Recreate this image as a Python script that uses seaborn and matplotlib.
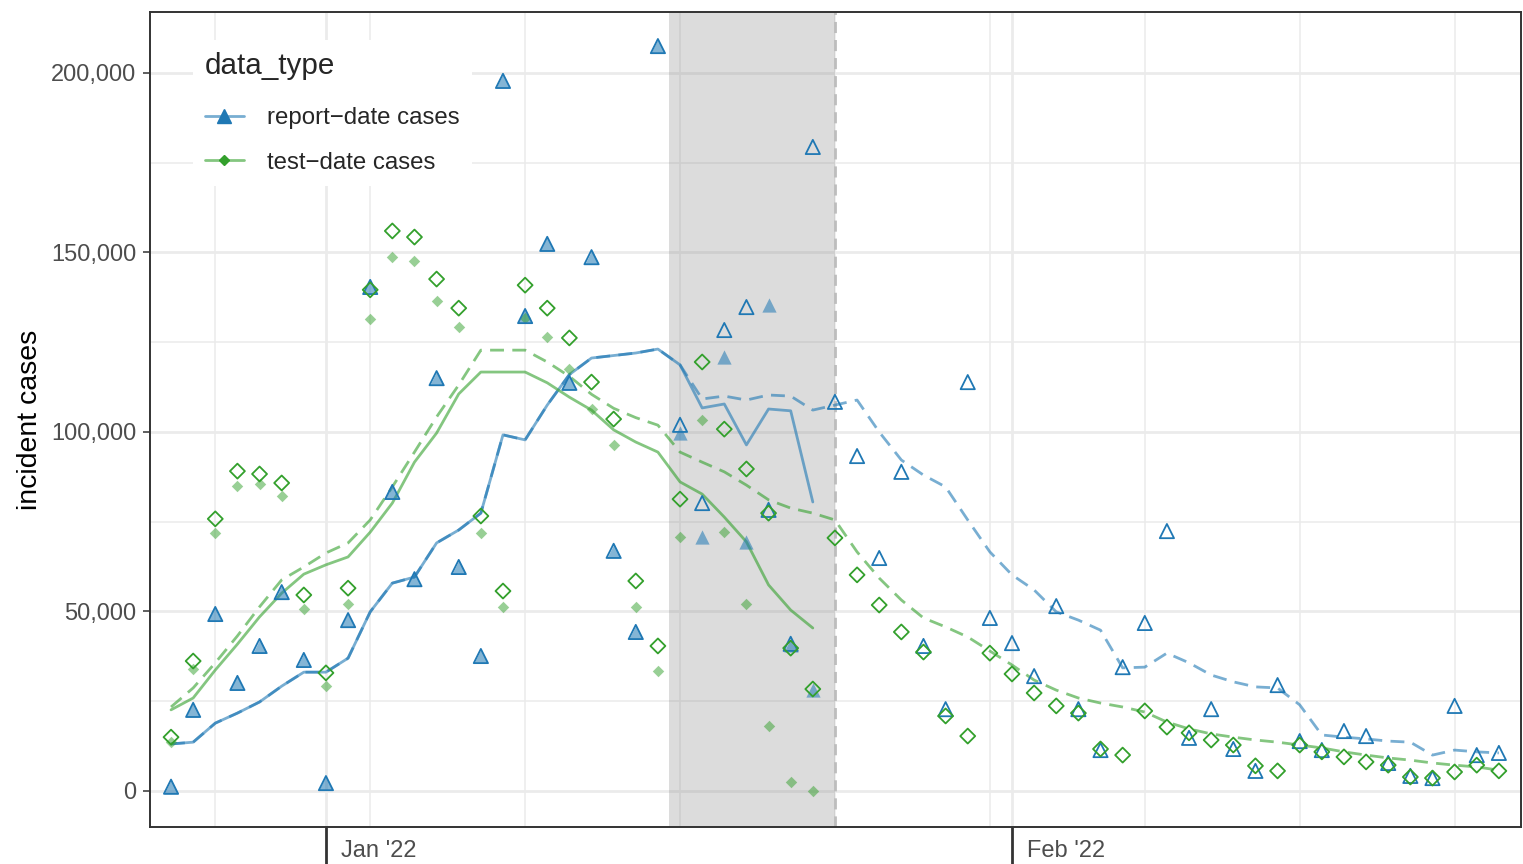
import numpy as np
import pandas as pd
import matplotlib
matplotlib.use("Agg")
import matplotlib.pyplot as plt
import matplotlib.dates as mdates
import matplotlib.ticker as mticker
import matplotlib.transforms as mtransforms
from matplotlib.lines import Line2D
import seaborn as sns

# --- data ---
dates = pd.date_range("2021-12-25", "2022-02-23", freq="D")
asof_dates = dates[:30]  # data as of Jan 24 '22

report_final = [1200, 22600, 49300, 30100, 40400, 55400, 36500, 2200, 47600, 140400,
                83300, 59000, 115000, 62400, 37600, 197800, 132300, 152400, 113700, 148700,
                66900, 44300, 207500, 102000, 80200, 128400, 134800, 78300, 41000, 179400,
                108400, 93300, 64900, 88900, 40400, 22800, 113900, 48200, 41200, 32000,
                51500, 22800, 11400, 34500, 46800, 72400, 14800, 22800, 11700, 5600,
                29500, 13900, 11400, 16700, 15300, 7800, 4200, 3600, 23700, 10000, 10600]
report_asof = [1200, 22600, 49300, 30100, 40400, 55400, 36500, 2200, 47600, 140400,
               83300, 59000, 115000, 62400, 37600, 197800, 132300, 152400, 113700, 148700,
               66900, 44300, 207500, 99700, 70700, 120900, 69400, 135400, 40700, 28100]

test_final = [15000, 36200, 75800, 89100, 88300, 85800, 54600, 32900, 56500, 139600,
              156000, 154300, 142600, 134500, 76600, 55700, 140900, 134500, 126200, 113900,
              103600, 58500, 40400, 81300, 119500, 100800, 89700, 77400, 39800, 28400,
              70500, 60200, 51800, 44300, 38700, 20900, 15300, 38400, 32600, 27300,
              23700, 21700, 11700, 10000, 22300, 17800, 16200, 14200, 12800, 7000,
              5600, 12800, 10900, 9500, 8100, 7200, 3900, 3600, 5300, 7200, 5600]
test_asof = [13600, 34000, 71900, 85000, 85500, 82200, 50700, 29200, 52100, 131500,
             148700, 147600, 136500, 129200, 71900, 51300, 131800, 126500, 117500, 106400,
             96400, 51300, 33400, 70800, 103300, 72100, 52100, 18100, 2500, 0]

# 7-day averages
report_avg_asof = [13100, 13600, 18900, 21700, 24800, 29200, 33100, 33100, 37000, 49900,
                   57900, 59600, 69100, 72700, 77400, 99200, 97800, 107500, 116000, 120600,
                   121300, 122000, 123100, 118700, 106700, 107800, 96400, 106400, 105900, 80500]
report_avg_final = [13100, 13600, 18900, 21700, 24800, 29200, 33100, 33100, 37000, 49900,
                    57900, 59600, 69100, 72700, 77400, 99200, 97800, 107500, 116000, 120600,
                    121300, 122000, 123100, 118700, 109200, 110000, 108900, 110300, 110000, 106100,
                    107500, 108900, 100000, 92200, 88000, 84700, 75500, 66600, 60200, 56000,
                    49900, 47600, 44800, 34300, 34500, 38400, 35700, 32300, 30400, 29000,
                    28700, 24000, 15600, 15000, 14500, 13900, 13600, 10000, 11400, 10900, 10600]
test_avg_asof = [22600, 25900, 33700, 40900, 48500, 55100, 60400, 63000, 65200, 72100,
                 80200, 91600, 99700, 110600, 116700, 116700, 116700, 113700, 109700, 106100,
                 100600, 97200, 94400, 86100, 82700, 76300, 69400, 57400, 50400, 45400]
test_avg_final = [23400, 28700, 35700, 43200, 51300, 58800, 62400, 66300, 69100, 75500,
                  84700, 94400, 104200, 113100, 122800, 122800, 122800, 119500, 115500, 110500,
                  106600, 104000, 101900, 94400, 91600, 88900, 85200, 81100, 78800, 77400,
                  75500, 66600, 59300, 53200, 48200, 45700, 42900, 39000, 35100, 30900,
                  28100, 25900, 24500, 23400, 22000, 19200, 17300, 15900, 15000, 14200,
                  13600, 12800, 12000, 10900, 10000, 9200, 8600, 7800, 7200, 6700, 5800]

legend_labels = ["report\u2212date cases", "test\u2212date cases"]

BLUE = "#1f78b4"
GREEN = "#33a02c"
TICK_GREY = "#4d4d4d"

# --- style ---
sns.set_style("white")
plt.rcParams["font.family"] = ["Liberation Sans", "DejaVu Sans"]

W, H = 1523, 864
fig = plt.figure(figsize=(W / 100, H / 100), dpi=100)
ax = fig.add_axes([150 / W, 1 - 827 / H, 1371 / W, 815 / H])
ax.set_axisbelow(True)

# shaded "backfill" window and forecast date
ax.axvspan(pd.Timestamp("2022-01-16 12:00"), pd.Timestamp("2022-01-24"),
           color="gray", alpha=0.27, lw=0, zorder=1)
ax.axvline(pd.Timestamp("2022-01-24"), color="#bdbdbd", lw=2,
           ls=(0, (4, 2.5)), zorder=1.5)

# rolling averages
dash = (0, (5, 3))
sns.lineplot(x=asof_dates, y=report_avg_asof, color=BLUE, alpha=0.6, lw=2, ax=ax, zorder=2)
sns.lineplot(x=dates, y=report_avg_final, color=BLUE, alpha=0.6, lw=2, linestyle=dash, ax=ax, zorder=2)
sns.lineplot(x=asof_dates, y=test_avg_asof, color=GREEN, alpha=0.6, lw=2, ax=ax, zorder=2)
sns.lineplot(x=dates, y=test_avg_final, color=GREEN, alpha=0.6, lw=2, linestyle=dash, ax=ax, zorder=2)

# points: filled = as-of data, open = finalized data
sns.scatterplot(x=asof_dates, y=report_asof, marker="^", s=105, color=BLUE,
                alpha=0.55, linewidth=0, ax=ax, zorder=3)
sns.scatterplot(x=asof_dates, y=test_asof, marker="D", s=34, color=GREEN,
                alpha=0.5, linewidth=0, ax=ax, zorder=3)
sns.scatterplot(x=dates, y=report_final, marker="^", s=105, color=BLUE,
                facecolor="none", edgecolor=BLUE, linewidth=1.3, ax=ax, zorder=4)
sns.scatterplot(x=dates, y=test_final, marker="D", s=58, color=GREEN,
                facecolor="none", edgecolor=GREEN, linewidth=1.3, ax=ax, zorder=4)

# --- axes ---
x0 = mdates.date2num(dates[0])
x1 = mdates.date2num(dates[-1])
ax.set_xlim(x0 - 0.95, x1 + 1.0)
ax.set_ylim(-10030, 216990)

ax.xaxis.set_major_locator(mdates.MonthLocator())
ax.xaxis.set_major_formatter(mdates.DateFormatter("%b '%y"))
ax.xaxis.set_minor_locator(mdates.WeekdayLocator(byweekday=mdates.MO))
ax.yaxis.set_major_locator(mticker.MultipleLocator(50000))
ax.yaxis.set_minor_locator(mticker.MultipleLocator(25000))
ax.yaxis.set_major_formatter(mticker.FuncFormatter(lambda v, p: f"{int(v):,}"))

ax.grid(which="major", color="#ebebeb", lw=2.0)
ax.grid(which="minor", color="#ebebeb", lw=1.1)

ax.tick_params(axis="y", which="major", length=5, width=1.1, color="#333333",
               labelsize=17, labelcolor=TICK_GREY, pad=5, left=True)
ax.tick_params(axis="x", which="major", length=30, width=2, color="#333333",
               labelsize=17, labelcolor=TICK_GREY, pad=-20.5, bottom=True)
ax.tick_params(which="minor", length=0)
offset = mtransforms.ScaledTranslation(0.15, 0, fig.dpi_scale_trans)
for lab in ax.get_xticklabels():
    lab.set_horizontalalignment("left")
    lab.set_transform(lab.get_transform() + offset)

for sp in ax.spines.values():
    sp.set_visible(True)
    sp.set_color("#333333")
    sp.set_linewidth(1.4)

ax.set_xlabel("")
ax.set_ylabel("incident cases", fontsize=20.5, color="black", labelpad=6)

# --- legend ---
handles = [
    Line2D([], [], color=(31 / 255, 120 / 255, 180 / 255, 0.6), lw=2, marker="^",
           markersize=10, markerfacecolor=BLUE, markeredgecolor=BLUE),
    Line2D([], [], color=(51 / 255, 160 / 255, 44 / 255, 0.6), lw=2, marker="D",
           markersize=5, markerfacecolor=GREEN, markeredgecolor=GREEN),
]
leg = ax.legend(handles, legend_labels, title="data_type", loc="upper left",
                bbox_to_anchor=(0.031, 0.966), borderaxespad=0,
                fontsize=17.3, title_fontsize=21.3,
                frameon=True, facecolor="white", edgecolor="none", framealpha=1,
                fancybox=False, handlelength=1.65, handletextpad=0.95,
                labelspacing=0.95, borderpad=0.5, alignment="left")
leg._legend_box.sep = 19.6
leg.set_zorder(5)

fig.savefig("out.png", dpi=100)
